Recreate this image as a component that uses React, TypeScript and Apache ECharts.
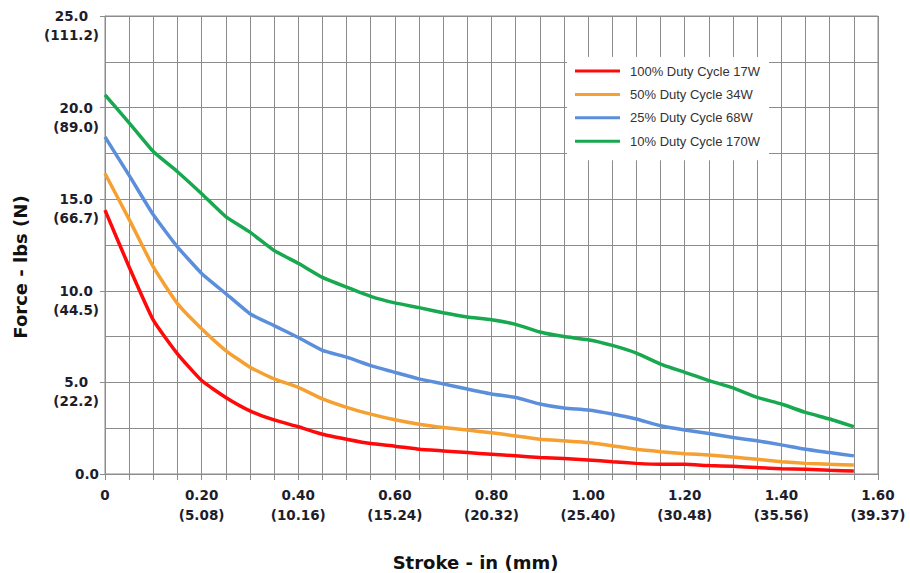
import React, { useEffect, useRef } from "react";
import * as echarts from "echarts";

const stroke = [
  0, 0.05, 0.1, 0.15, 0.2, 0.25, 0.3, 0.35, 0.4, 0.45, 0.5, 0.55, 0.6, 0.65, 0.7, 0.75,
  0.8, 0.85, 0.9, 0.95, 1.0, 1.05, 1.1, 1.15, 1.2, 1.25, 1.3, 1.35, 1.4, 1.45, 1.5, 1.55,
];

const duty100 = [
  14.4, 11.3, 8.4, 6.56, 5.1, 4.18, 3.45, 2.95, 2.58, 2.17, 1.9, 1.66, 1.52, 1.35, 1.26, 1.17,
  1.08, 0.99, 0.9, 0.84, 0.77, 0.67, 0.58, 0.53, 0.53, 0.46, 0.42, 0.35, 0.29, 0.26, 0.2, 0.16,
];
const duty50 = [
  16.4, 13.9, 11.3, 9.3, 7.93, 6.74, 5.83, 5.19, 4.73, 4.1, 3.64, 3.27, 2.96, 2.72, 2.54, 2.4,
  2.25, 2.08, 1.9, 1.81, 1.72, 1.54, 1.35, 1.22, 1.11, 1.04, 0.93, 0.8, 0.67, 0.58, 0.53, 0.49,
];
const duty25 = [
  18.4, 16.3, 14.15, 12.4, 10.95, 9.85, 8.75, 8.1, 7.45, 6.75, 6.38, 5.92, 5.55, 5.19, 4.92, 4.64,
  4.37, 4.18, 3.82, 3.6, 3.49, 3.27, 3.0, 2.63, 2.4, 2.21, 1.99, 1.81, 1.59, 1.35, 1.17, 0.99,
];
const duty10 = [
  20.7, 19.17, 17.6, 16.5, 15.3, 14.05, 13.2, 12.2, 11.5, 10.73, 10.2, 9.7, 9.34, 9.08, 8.8, 8.57,
  8.42, 8.17, 7.75, 7.5, 7.33, 7.02, 6.6, 6.0, 5.55, 5.1, 4.7, 4.18, 3.82, 3.36, 3.0, 2.58,
];

const seriesNames = [
  "100% Duty Cycle 17W",
  "50% Duty Cycle 34W",
  "25% Duty Cycle 68W",
  "10% Duty Cycle 170W",
];
const seriesColors = ["#FF0A0A", "#F5A031", "#5B8FDB", "#18A84F"];

const xTickValues = [0, 0.2, 0.4, 0.6, 0.8, 1.0, 1.2, 1.4, 1.6];
const xTickIn = ["0", "0.20", "0.40", "0.60", "0.80", "1.00", "1.20", "1.40", "1.60"];
const xTickMm = ["", "(5.08)", "(10.16)", "(15.24)", "(20.32)", "(25.40)", "(30.48)", "(35.56)", "(39.37)"];

const yTickValues = [0, 5, 10, 15, 20, 25];
const yTickLbs = ["0.0", "5.0", "10.0", "15.0", "20.0", "25.0"];
const yTickN = ["", "(22.2)", "(44.5)", "(66.7)", "(89.0)", "(111.2)"];

const GRID = "#8c8c8c";
const TXT = "#1d1d2b";
const FONT = "'DejaVu Sans', Verdana, sans-serif";

function findIdx(arr: number[], v: number) {
  return arr.findIndex((t) => Math.abs(t - v) < 1e-6);
}

export default function App() {
  const ref = useRef<HTMLDivElement>(null);

  useEffect(() => {
    if (!ref.current) return;
    const chart = echarts.init(ref.current, undefined, { renderer: "svg" });
    const dataSets = [duty100, duty50, duty25, duty10];
    const order = [3, 2, 1, 0];
    const option: any = {
      animation: false,
      backgroundColor: "#ffffff",
      grid: {
        left: 105,
        right: 32,
        top: 16,
        bottom: 99,
        show: true,
        borderColor: GRID,
        borderWidth: 1,
        containLabel: false,
        outerBoundsMode: "none",
      },
      legend: {
        data: seriesNames.map((n, i) => ({
          name: n,
          icon: "rect",
          itemStyle: { color: seriesColors[i] },
        })),
        orient: "vertical",
        left: 567,
        top: 57,
        backgroundColor: "#ffffff",
        padding: [7, 9, 12, 8],
        itemWidth: 45,
        itemHeight: 3,
        itemGap: 9.4,
        textStyle: {
          fontFamily: "'Liberation Sans', Arial, sans-serif",
          fontSize: 13,
          color: "#333333",
          lineHeight: 14,
          padding: [0, 0, 0, 5],
        },
      },
      xAxis: {
        type: "value",
        min: 0,
        max: 1.6,
        interval: 0.2,
        name: "Stroke - in (mm)",
        nameLocation: "middle",
        nameGap: 79,
        nameTextStyle: {
          fontFamily: FONT,
          fontWeight: "bold",
          fontSize: 18,
          color: "#111111",
          lineHeight: 18,
          padding: [0, 32, 0, 0],
        },
        axisLine: { show: true, lineStyle: { color: GRID, width: 1 } },
        axisTick: { show: true, length: 6, lineStyle: { color: GRID } },
        minorTick: { show: true, splitNumber: 4, length: 6, lineStyle: { color: GRID } },
        splitLine: { show: true, lineStyle: { color: GRID, width: 1 } },
        minorSplitLine: { show: true, lineStyle: { color: GRID, width: 1 } },
        axisLabel: {
          margin: 11,
          fontFamily: FONT,
          fontWeight: "bold",
          fontSize: 13.5,
          color: TXT,
          lineHeight: 20,
          formatter: (v: number) => {
            const i = findIdx(xTickValues, v);
            if (i < 0) return "";
            return xTickMm[i] ? `${xTickIn[i]}\n${xTickMm[i]}` : xTickIn[i];
          },
        },
      },
      yAxis: {
        type: "value",
        min: 0,
        max: 25,
        interval: 5,
        name: "Force - lbs (N)",
        nameLocation: "middle",
        nameGap: 76,
        nameRotate: 90,
        nameTextStyle: {
          fontFamily: FONT,
          fontWeight: "bold",
          fontSize: 18,
          color: "#111111",
          lineHeight: 18,
          padding: [0, 44, 0, 0],
        },
        axisLine: { show: true, lineStyle: { color: GRID, width: 1 } },
        axisTick: { show: true, length: 5, lineStyle: { color: GRID } },
        minorTick: { show: false, splitNumber: 2 },
        splitLine: { show: true, lineStyle: { color: GRID, width: 1 } },
        minorSplitLine: { show: true, lineStyle: { color: GRID, width: 1 } },
        axisLabel: {
          margin: 6,
          fontFamily: FONT,
          fontWeight: "bold",
          fontSize: 13.5,
          color: TXT,
          lineHeight: 19,
          formatter: (v: number) => {
            const i = findIdx(yTickValues, v);
            if (i < 0) return "";
            if (!yTickN[i]) return `{c|${yTickLbs[i]}}`;
            return `\n{c|${yTickLbs[i]}}\n{c|${yTickN[i]}}`;
          },
          rich: {
            c: {
              align: "center",
              fontFamily: FONT,
              fontWeight: "bold",
              fontSize: 13.5,
              color: TXT,
              lineHeight: 19,
            },
          },
        },
      },
      series: order.map((k) => ({
        name: seriesNames[k],
        type: "line",
        data: stroke.map((s, j) => [s, dataSets[k][j]]),
        symbol: "none",
        smooth: 0.15,
        lineStyle: { color: seriesColors[k], width: 3.5 },
        itemStyle: { color: seriesColors[k] },
        z: 3 + (3 - k),
      })),
    };
    chart.setOption(option);
    return () => chart.dispose();
  }, []);

  return (
    <div
      ref={ref}
      style={{ position: "absolute", left: 0, top: 0, width: 910, height: 573 }}
    />
  );
}
